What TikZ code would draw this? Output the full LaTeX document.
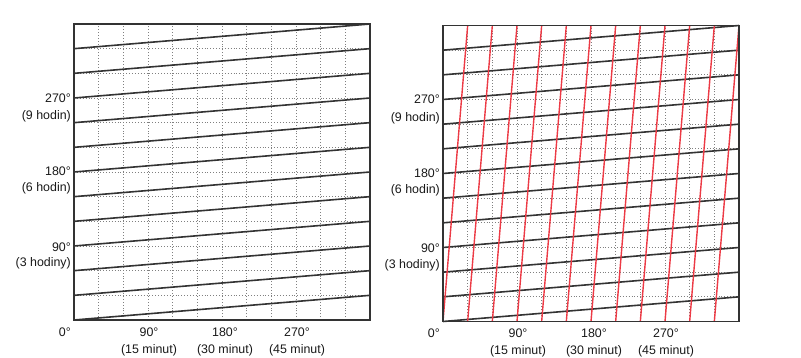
\documentclass[tikz,border=0pt]{standalone}
\usepackage{fontspec}
\setmainfont{Liberation Sans}
\definecolor{handred}{HTML}{EC3A45}
\definecolor{handgray}{HTML}{333333}
\tikzset{
  gridline/.style={draw=black!50, line width=0.8pt, dash pattern=on 0.9pt off 2pt},
  hourline/.style={draw=handgray, line width=1.6pt},
  minline/.style={draw=handred, line width=1.4pt},
  framebox/.style={draw=handgray, line width=1.9pt},
  lbl/.style={font=\fontsize{12.4}{14}\selectfont, text=black!90, inner sep=0pt}
}
\begin{document}
\begin{tikzpicture}[x=1pt,y=-1pt]
\useasboundingbox (0,0) rectangle (801,358);
\def\c{24.6667}
\foreach \ox/\oy/\p in {74/320/1, 443/321.5/2}{
\begin{scope}[shift={(\ox,\oy)}, y=1pt]
  % dotted grid
  \foreach \i in {1,...,11}{
    \draw[gridline] (\i*\c,0) -- (\i*\c,296);
    \draw[gridline] (0,\i*\c) -- (296,\i*\c);
  }
  % hour-hand lines
  \foreach \i in {0,...,11}{
    \draw[hourline] (0,\i*\c) -- (296,\i*\c+\c);
  }
  % minute-hand lines (right panel)
  \ifnum\p=2
    \foreach \k in {0,...,11}{
      \draw[minline] (\k*\c,0) -- (\k*\c+\c,296);
    }
  \fi
  \draw[framebox] (0,0) rectangle (296,296);
  % left labels
  \node[lbl, anchor=east] (d270-\p) at (-3,222) {270°};
  \node[lbl, anchor=east] (h9-\p)   at (-3,203.5) {(9 hodin)};
  \node[lbl, anchor=east] (d180-\p) at (-3,148.5) {180°};
  \node[lbl, anchor=east] (h6-\p)   at (-3,131.5) {(6 hodin)};
  \node[lbl, anchor=east] (d90-\p)  at (-3,73) {90°};
  \node[lbl, anchor=east] (h3-\p)   at (-3,56.5) {(3 hodiny)};
  % bottom labels
  \node[lbl, anchor=east] (d0-\p)   at (-3,-12) {0°};
  \node[lbl] (m90-\p)  at (75,-12) {90°};
  \node[lbl] (m15-\p)  at (75,-30) {(15 minut)};
  \node[lbl] (m180-\p) at (151,-12) {180°};
  \node[lbl] (m30-\p)  at (151,-30) {(30 minut)};
  \node[lbl] (m270-\p) at (223,-12) {270°};
  \node[lbl] (m45-\p)  at (223,-30) {(45 minut)};
\end{scope}
}
\end{tikzpicture}
\end{document}
